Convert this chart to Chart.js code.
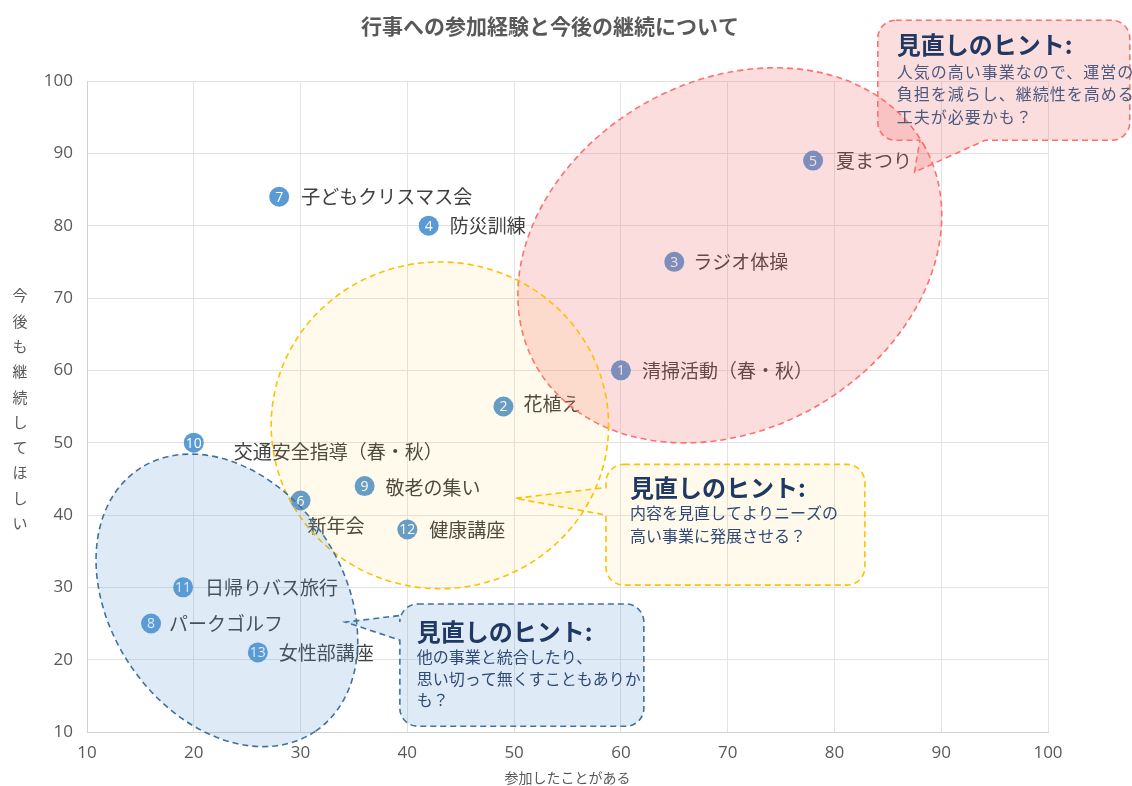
<!DOCTYPE html>
<html><head><meta charset="utf-8">
<script src="https://cdn.jsdelivr.net/npm/chart.js@4/dist/chart.umd.min.js"></script>
<style>html,body{margin:0;padding:0;background:#fff}#wrap{width:1132px;height:786px}</style>
</head><body><div id="wrap"><canvas id="c" width="1132" height="786"></canvas></div>
<script>
const chartTitle = '行事への参加経験と今後の継続について';
const xTitle = '参加したことがある';
const yTitle = '今後も継続してほしい';
const ids = [1,2,3,4,5,6,7,8,9,10,11,12,13];
const names = ['清掃活動（春・秋）','花植え','ラジオ体操','防災訓練','夏まつり','新年会','子どもクリスマス会','パークゴルフ','敬老の集い','交通安全指導（春・秋）','日帰りバス旅行','健康講座','女性部講座'];
const participated = [60,49,65,42,78,30,28,16,36,20,19,40,26];
const continueWish = [60,55,75,80,89,42,84,25,44,50,30,38,21];
const axisMin = 10, axisMax = 100, axisStep = 10;
const hintTitle = '見直しのヒント:';
const hintRed = ['人気の高い事業なので、運営の','負担を減らし、継続性を高める','工夫が必要かも？'];
const hintYellow = ['内容を見直してよりニーズの','高い事業に発展させる？'];
const hintBlue = ['他の事業と統合したり、','思い切って無くすこともありか','も？'];

// label placement (pixel offsets from the point)
const labelOffsets = [[21,0],[20,-3],[19,0],[21,0],[23,0],[7,25],[22,0],[18,0],[21,2],[40,9],[22,0],[22,0],[21,0]];

const CJK = '"Noto Sans CJK JP","Noto Sans",sans-serif';
const LAT = '"Open Sans","Noto Sans",sans-serif';

// decorative groups, in data units
const ellipses = [
  {cx:70.2, cy:75.9, a:20.9, b:16.3, rot:-30, fill:'rgba(240,100,100,0.22)', stroke:'#ff6f6f'},
  {cx:43.05, cy:52.4, a:15.8, b:15.3, rot:0, fill:'rgba(255,192,0,0.08)', stroke:'#ffc000'},
  {cx:23.1, cy:28.2, a:14.8, b:10.9, rot:56, fill:'rgba(91,155,213,0.2)', stroke:'#41719c'}
];
const callouts = [
  {x1:84.06, x2:107.66, y1:108.4, y2:91.8, ptr:{side:'bottom', b1:88.0, b2:94.1, tx:87.5, ty:87.4},
   fill:'rgba(240,100,100,0.22)', stroke:'#ff6f6f', lines:hintRed, tdx:19, ty:[25,52,74,97], bodyColor:'#4a5a80', spacing:1},
  {x1:58.6, x2:82.85, y1:47.0, y2:30.3, ptr:{side:'left', b1:43.8, b2:40.0, tx:50.1, ty:42.3},
   fill:'rgba(255,192,0,0.08)', stroke:'#ffc000', lines:hintYellow, tdx:24, ty:[24,49,72], bodyColor:'#2f4a78', spacing:0},
  {x1:39.3, x2:62.15, y1:27.7, y2:10.8, ptr:{side:'left', b1:26.1, b2:22.7, tx:34.2, ty:25.2},
   fill:'rgba(91,155,213,0.2)', stroke:'#41719c', lines:hintBlue, tdx:17, ty:[28,53,75,96], bodyColor:'#2f4a78', spacing:0}
];

const overlay = {
  id:'overlay',
  afterDatasetsDraw(chart){
    const ctx = chart.ctx, xs = chart.scales.x, ys = chart.scales.y;
    const meta = chart.getDatasetMeta(0);
    ctx.save();
    // point numbers and names
    meta.data.forEach((pt, i) => {
      ctx.fillStyle = '#ffffff';
      ctx.font = '14px ' + LAT;
      ctx.textAlign = 'center'; ctx.textBaseline = 'middle';
      ctx.fillText(String(ids[i]), pt.x, pt.y + 1);
      ctx.fillStyle = '#404040';
      ctx.font = '19px ' + CJK;
      ctx.textAlign = 'left';
      ctx.fillText(names[i], pt.x + labelOffsets[i][0], pt.y + labelOffsets[i][1]);
    });
    const ux = xs.getPixelForValue(1) - xs.getPixelForValue(0);
    // ellipses
    ellipses.forEach(e => {
      ctx.beginPath();
      ctx.ellipse(xs.getPixelForValue(e.cx), ys.getPixelForValue(e.cy), e.a*ux, e.b*ux, e.rot*Math.PI/180, 0, Math.PI*2);
      ctx.fillStyle = e.fill; ctx.fill();
      ctx.setLineDash([6,4]); ctx.lineWidth = 1.6; ctx.strokeStyle = e.stroke; ctx.stroke();
    });
    // callouts
    callouts.forEach(c => {
      const L = xs.getPixelForValue(c.x1), R = Math.min(xs.getPixelForValue(c.x2), chart.width - 2);
      const T = ys.getPixelForValue(c.y1), B = ys.getPixelForValue(c.y2);
      const r = 18, p = c.ptr;
      ctx.beginPath();
      ctx.moveTo(L + r, T);
      ctx.lineTo(R - r, T); ctx.arcTo(R, T, R, T + r, r);
      ctx.lineTo(R, B - r); ctx.arcTo(R, B, R - r, B, r);
      if (p.side === 'bottom') {
        ctx.lineTo(xs.getPixelForValue(p.b2), B);
        ctx.lineTo(xs.getPixelForValue(p.tx), ys.getPixelForValue(p.ty));
        ctx.lineTo(xs.getPixelForValue(p.b1), B);
      }
      ctx.lineTo(L + r, B); ctx.arcTo(L, B, L, B - r, r);
      if (p.side === 'left') {
        ctx.lineTo(L, ys.getPixelForValue(p.b2));
        ctx.lineTo(xs.getPixelForValue(p.tx), ys.getPixelForValue(p.ty));
        ctx.lineTo(L, ys.getPixelForValue(p.b1));
      }
      ctx.lineTo(L, T + r); ctx.arcTo(L, T, L + r, T, r);
      ctx.closePath();
      ctx.fillStyle = c.fill; ctx.fill();
      ctx.setLineDash([6,4]); ctx.lineWidth = 1.6; ctx.strokeStyle = c.stroke; ctx.stroke();
      ctx.setLineDash([]);
      ctx.textAlign = 'left'; ctx.textBaseline = 'middle';
      ctx.fillStyle = '#1f3864';
      ctx.font = 'bold 24px ' + CJK;
      ctx.fillText(hintTitle, L + c.tdx, T + c.ty[0]);
      ctx.fillStyle = c.bodyColor;
      ctx.font = '16px ' + CJK;
      if ('letterSpacing' in ctx) ctx.letterSpacing = c.spacing + 'px';
      c.lines.forEach((ln, k) => ctx.fillText(ln, L + c.tdx, T + c.ty[k+1]));
      if ('letterSpacing' in ctx) ctx.letterSpacing = '0px';
    });
    // chart title and axis titles
    ctx.fillStyle = '#595959';
    ctx.textAlign = 'center'; ctx.textBaseline = 'middle';
    ctx.font = 'bold 21px ' + CJK;
    ctx.fillText(chartTitle, 550, 26);
    ctx.font = '14px ' + CJK;
    ctx.fillText(xTitle, (chart.chartArea.left + chart.chartArea.right)/2, 778);
    ctx.font = '15px ' + CJK;
    const chars = Array.from(yTitle);
    const mid = (chart.chartArea.top + chart.chartArea.bottom)/2 + 3;
    chars.forEach((ch, k) => ctx.fillText(ch, 20, mid + (k - (chars.length-1)/2) * 25.3));
    ctx.restore();
  }
};

new Chart(document.getElementById('c'), {
  type:'scatter',
  data:{ datasets:[{
    data: participated.map((v,i) => ({x:v, y:continueWish[i]})),
    pointRadius:10, pointHoverRadius:10, backgroundColor:'#5b9bd5', borderWidth:0
  }]},
  options:{
    responsive:false, animation:false, devicePixelRatio:1,
    layout:{padding:{top:81, right:84, left:0, bottom:0}},
    plugins:{legend:{display:false}, tooltip:{enabled:false}, title:{display:false}},
    scales:{
      x:{type:'linear', min:axisMin, max:axisMax,
         ticks:{stepSize:axisStep, color:'#595959', font:{family:LAT, size:17}, padding:11},
         grid:{color:'#e3e3e3', drawTicks:false}, border:{color:'#d0d0d0'},
         afterFit(s){ s.height = 54; }},
      y:{type:'linear', min:axisMin, max:axisMax,
         ticks:{stepSize:axisStep, color:'#595959', font:{family:LAT, size:17}, padding:14},
         grid:{color:'#e3e3e3', drawTicks:false}, border:{color:'#d0d0d0'},
         afterFit(s){ s.width = 87; }}
    }
  },
  plugins:[overlay]
});
</script></body></html>
